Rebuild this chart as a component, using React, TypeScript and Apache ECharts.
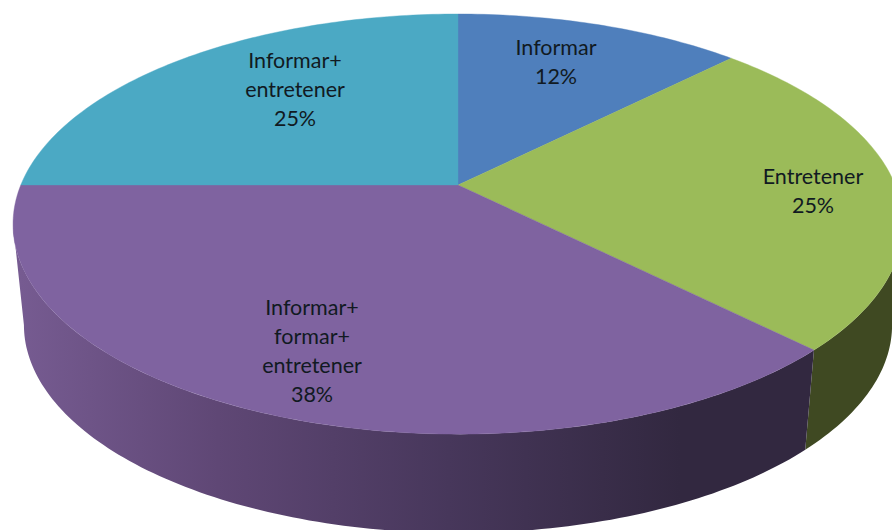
import React, { useEffect, useRef } from "react";
import * as echarts from "echarts";

const NAMES = ["Informar", "Entretener", "Informar+\nformar+\nentretener", "Informar+\nentretener"];
const SHARES = [12.5, 25, 37.5, 25];
const PERCENT_LABELS = ["12%", "25%", "38%", "25%"];
const TOP_COLORS = ["#4f7fbc", "#9bbb59", "#7f63a0", "#4ba9c4"];

// Layout of the perspective pie (not data)
const W = 892;
const H = 530;
const CX = 458;
const K = -0.186;
const TOP_RIM = { a: 437.2, b: 202.8, y0: 185 };
const BOTTOM_RIM = { a: 426.5, b: 200.8, y0: 286.3 };
const VISIBLE_FROM = 100.7;
const VISIBLE_TO = 259.3;
const LABEL_ANCHORS = [
  [556, 61.5],
  [813, 190.5],
  [312, 350.5],
  [295, 89],
];

const SIDE_FILLS: any[] = [
  null,
  "#3f4922",
  {
    type: "linear",
    x: 20,
    y: 0,
    x2: 680,
    y2: 0,
    global: true,
    colorStops: [
      { offset: 0, color: "#765b91" },
      { offset: 0.3, color: "#5f4775" },
      { offset: 0.65, color: "#47375b" },
      { offset: 1, color: "#322840" },
    ],
  },
  null,
];

const total = SHARES.reduce((s, v) => s + v, 0);
const startAngle = (i: number) =>
  (SHARES.slice(0, i).reduce((s, v) => s + v, 0) / total) * 360;

function rimPoint(rim: typeof TOP_RIM, deg: number): number[] {
  const t = (deg * Math.PI) / 180;
  const u = Math.sin(t);
  const v = -Math.cos(t);
  const w = 1 + K * v;
  return [CX + (rim.a * u) / w, rim.y0 + (rim.b * v) / w];
}

function arc(rim: typeof TOP_RIM, from: number, to: number): number[][] {
  const n = Math.max(2, Math.ceil((to - from) / 1));
  const pts: number[][] = [];
  for (let j = 0; j <= n; j++) pts.push(rimPoint(rim, from + ((to - from) * j) / n));
  return pts;
}

const renderSide = (params: any) => {
  const i = params.dataIndex;
  const from = Math.max(startAngle(i), VISIBLE_FROM);
  const to = Math.min(startAngle(i + 1), VISIBLE_TO);
  if (to <= from || !SIDE_FILLS[i]) return { type: "group", children: [] };
  const points = [...arc(TOP_RIM, from, to), ...arc(BOTTOM_RIM, from, to).reverse()];
  return { type: "polygon", shape: { points }, style: { fill: SIDE_FILLS[i] } };
};

const renderTop = (params: any) => {
  const i = params.dataIndex;
  const points = [[CX, TOP_RIM.y0], ...arc(TOP_RIM, startAngle(i), startAngle(i + 1))];
  return {
    type: "polygon",
    shape: { points },
    style: { fill: TOP_COLORS[i], stroke: TOP_COLORS[i], lineWidth: 0.4 },
  };
};

const renderLabel = (params: any) => {
  const i = params.dataIndex;
  return {
    type: "text",
    x: LABEL_ANCHORS[i][0],
    y: LABEL_ANCHORS[i][1],
    style: {
      text: `${NAMES[i]}\n${PERCENT_LABELS[i]}`,
      fill: "#111a22",
      fontFamily: "Lato",
      fontSize: 21.5,
      lineHeight: 29,
      align: "center",
      verticalAlign: "middle",
    },
  };
};

export default function App() {
  const ref = useRef<HTMLDivElement>(null);
  useEffect(() => {
    document.body.style.margin = "0";
    const chart = echarts.init(ref.current!, undefined, { renderer: "svg" });
    const data = SHARES.map((v, i) => ({ name: NAMES[i], value: [v] }));
    const base = { type: "custom", coordinateSystem: "none", silent: true, data };
    chart.setOption({
      animation: false,
      backgroundColor: "#ffffff",
      series: [
        { ...base, z: 1, renderItem: renderSide },
        { ...base, z: 2, renderItem: renderTop },
        { ...base, z: 3, renderItem: renderLabel },
      ],
    });
    return () => chart.dispose();
  }, []);
  return <div ref={ref} style={{ width: W, height: H }} />;
}
